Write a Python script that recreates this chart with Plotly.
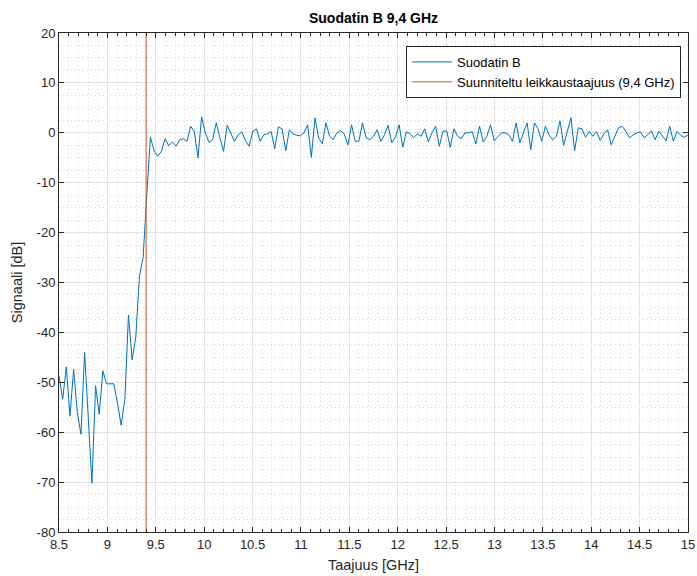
import numpy as np
import plotly.graph_objects as go

# Frequency sweep (GHz): 173 evenly spaced measurement points
f_start, f_stop, n_points = 8.5, 15.0, 173
freq = np.linspace(f_start, f_stop, n_points)

# Measured filter response (dB)
signal_db = [
    -48.7, -53.4, -46.9, -56.8, -47.4, -56.0, -60.4, -44.0, -57.0, -70.2,
    -50.7, -56.4, -47.7, -50.3, -50.3, -50.3, -54.2, -58.6, -53.5, -36.5,
    -45.5, -40.9, -28.8, -25.0, -12.5, -0.9, -3.6, -4.7, -3.7, -1.2,
    -2.6, -1.8, -2.7, -1.4, -1.2, -1.7, 1.3, 0.3, -5.0, 3.2,
    0.0, -1.9, -1.4, 2.0, -1.0, -3.7, 1.5, 0.0, -1.7, -0.4,
    0.2, -1.6, -2.7, 0.3, 0.8, -1.7, -0.4, -0.2, 0.3, -3.2,
    1.2, 0.8, -3.6, 0.6, -0.2, -0.5, -0.6, 0.0, 1.6, -4.9,
    3.0, -1.0, -2.2, 2.0, -0.7, -1.4, 0.0, 0.4, -0.2, -2.4,
    1.6, -1.7, -1.7, 2.0, -1.0, -1.4, -0.7, 0.6, -1.7, -0.4,
    1.5, -2.0, -0.9, 1.6, -2.9, 0.2, -0.2, -1.0, -0.2, -0.7,
    0.8, -1.8, 0.0, 1.3, -2.7, 0.3, 0.4, -2.9, 0.8, -0.7,
    -1.2, 0.0, 0.0, 0.2, -2.2, 1.3, -1.8, -0.7, 1.6, -1.6,
    -0.7, 0.0, 0.0, -0.4, -1.7, 2.0, -2.0, 0.2, 2.0, -3.4,
    2.0, 0.8, -1.7, 1.3, -0.4, -1.4, -0.7, 2.4, -2.5, 0.3,
    3.0, -3.6, 1.0, 0.8, -0.9, 0.3, -0.7, 0.2, -1.5, -0.2,
    0.6, -2.4, -0.7, 1.0, 1.3, 0.3, -1.0, -0.4, 0.0, 0.2,
    -1.0, -0.4, 0.4, -1.4, 0.3, -0.7, -1.6, 1.3, -1.7, 0.3,
    -0.5, -0.9, -0.4,
]

# Designed cutoff frequency (GHz)
cutoff_ghz = 9.4

x_range = [8.5, 15]
y_range = [-80, 20]
x_ticks = [8.5, 9, 9.5, 10, 10.5, 11, 11.5, 12, 12.5, 13, 13.5, 14, 14.5, 15]
y_ticks = [-80, -70, -60, -50, -40, -30, -20, -10, 0, 10, 20]

axis_color = "#262626"
font_family = "Liberation Sans, Arial, sans-serif"
minor_grid = dict(showgrid=True, gridcolor="#d6d6d6", griddash="1px,3px", gridwidth=1)

fig = go.Figure()
fig.add_trace(go.Scatter(
    x=freq, y=signal_db, mode="lines", name="Suodatin B",
    line=dict(color="#0072BD", width=1),
))
fig.add_trace(go.Scatter(
    x=[cutoff_ghz, cutoff_ghz], y=y_range, mode="lines",
    name="Suunniteltu leikkaustaajuus (9,4 GHz)",
    line=dict(color="#D95319", width=1),
))

common_axis = dict(
    showline=True, linecolor=axis_color, linewidth=1, mirror="ticks",
    ticks="inside", ticklen=5, tickcolor=axis_color,
    showgrid=True, gridcolor="#e3e3e3", gridwidth=1,
    zeroline=False, automargin=False,
    tickfont=dict(size=13, color=axis_color, family=font_family),
)

fig.update_xaxes(
    range=x_range, tickvals=x_ticks, ticktext=[f"{t:g}" for t in x_ticks],
    title=dict(text="Taajuus [GHz]", font=dict(size=14.5, color=axis_color, family=font_family), standoff=9),
    minor=dict(dtick=0.1, tick0=8.5, ticks="inside", ticklen=3, tickcolor=axis_color, **minor_grid),
    **common_axis,
)
fig.update_yaxes(
    range=y_range, tickvals=y_ticks, ticktext=[f"{t:g}" for t in y_ticks],
    title=dict(text="Signaali [dB]", font=dict(size=14.5, color=axis_color, family=font_family), standoff=10),
    minor=dict(dtick=2.5, tick0=-80, ticks="", **minor_grid),
    **common_axis,
)

fig.update_layout(
    width=697, height=576,
    margin=dict(l=59, r=9, t=33, b=44),
    paper_bgcolor="white", plot_bgcolor="white",
    font=dict(family=font_family, color=axis_color),
    title=dict(text="<b>Suodatin B 9,4 GHz</b>", x=0.5, xref="paper", xanchor="center",
               y=1 - 18 / 576, yref="container", yanchor="middle",
               font=dict(size=14, color="black", family=font_family)),
    legend=dict(x=0.989, y=0.974, xanchor="right", yanchor="top",
                bgcolor="white", bordercolor=axis_color, borderwidth=1,
                tracegroupgap=0, itemwidth=40,
                font=dict(size=13, color="black", family=font_family)),
    showlegend=True,
)

fig.write_html("out.html")
